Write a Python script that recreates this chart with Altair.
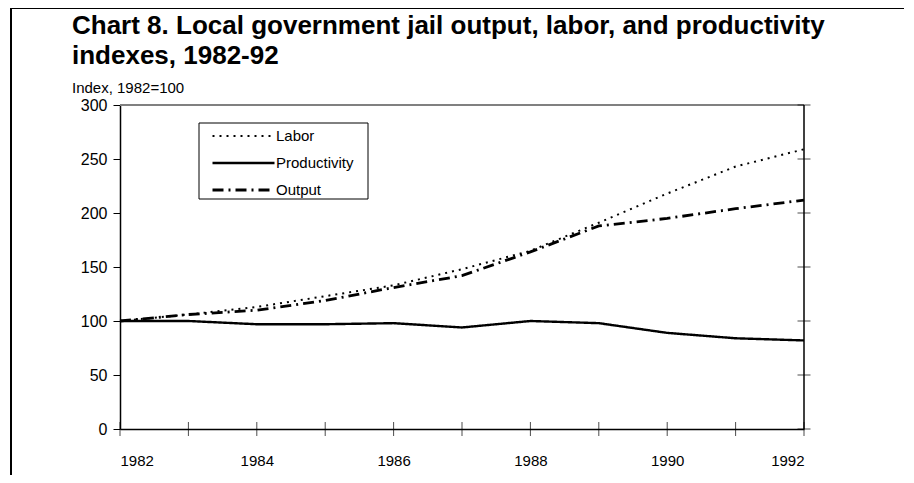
import altair as alt
import pandas as pd

years = list(range(1982, 1993))
labor = [100, 106, 113, 123, 133, 148, 165, 191, 218, 243, 259]
productivity = [100, 100, 97, 97, 98, 94, 100, 98, 89, 84, 82]
output = [100, 106, 110, 119, 131, 142, 164, 188, 195, 204, 212]
series_names = ["Labor", "Productivity", "Output"]
y_ticks = [0, 50, 100, 150, 200, 250, 300]
x_labels = [1982, 1984, 1986, 1988, 1990, 1992]

rows = []
for name, vals in zip(series_names, [labor, productivity, output]):
    for yr, v in zip(years, vals):
        rows.append({"year": yr, "value": v, "series": name})
df = pd.DataFrame(rows)

FONT = "Liberation Sans"
xscale = alt.Scale(domain=[1982, 1992], nice=False, zero=False)
yscale = alt.Scale(domain=[0, 300], nice=False)

lines = alt.Chart(df).mark_line(color="black").encode(
    x=alt.X("year:Q", scale=xscale,
            axis=alt.Axis(values=x_labels, format="d", title=None, ticks=False,
                          labelFontSize=15, labelFont=FONT, labelColor="black",
                          labelPadding=24, domainColor="black", domainWidth=1.5, grid=False)),
    y=alt.Y("value:Q", scale=yscale,
            axis=alt.Axis(values=y_ticks, title=None, tickSize=7, tickColor="black",
                          domainColor="black", domainWidth=1.5, labelFontSize=16, labelFont=FONT,
                          labelColor="black", labelPadding=6, grid=False)),
    strokeDash=alt.StrokeDash(
        "series:N", sort=series_names,
        scale=alt.Scale(domain=series_names, range=[[2, 5], [1, 0], [11, 5, 2, 5]]),
        legend=alt.Legend(title=None, orient="none", legendX=91, legendY=18.5,
                          direction="vertical", symbolType="stroke", symbolSize=3844,
                          symbolStrokeColor="black", symbolStrokeWidth=2,
                          labelFont=FONT, labelFontSize=15, labelColor="black",
                          labelOffset=0, padding=0, rowPadding=2, clipHeight=25)),
    strokeWidth=alt.StrokeWidth("series:N",
                                scale=alt.Scale(domain=series_names, range=[2, 2.8, 2]),
                                legend=None),
)

xticks = alt.Chart(pd.DataFrame({"year": years})).mark_tick(
    orient="vertical", size=14, thickness=1, color="black").encode(
    x=alt.X("year:Q", scale=xscale), y=alt.datum(0))

yticks = alt.Chart(pd.DataFrame({"v": y_ticks})).mark_tick(
    orient="horizontal", size=13, thickness=1, color="black").encode(
    x=alt.datum(1992), y=alt.Y("v:Q", scale=yscale))

dummy = pd.DataFrame({"a": [0]})
right_line = alt.Chart(dummy).mark_rule(color="black", strokeWidth=1.5).encode(x=alt.datum(1992))
top_line = alt.Chart(dummy).mark_rule(color="#808080", strokeWidth=2).encode(y=alt.datum(300))
frame_left = alt.Chart(dummy).mark_rule(color="black", strokeWidth=2).encode(
    x=alt.value(-109), y=alt.value(-97), y2=alt.value(380))
frame_top = alt.Chart(dummy).mark_rule(color="black", strokeWidth=2).encode(
    x=alt.value(-109), x2=alt.value(790), y=alt.value(-97))
legend_box = alt.Chart(dummy).mark_rect(fill="white", stroke="black", strokeWidth=1).encode(
    x=alt.value(79), x2=alt.value(248), y=alt.value(18), y2=alt.value(94))

chart = alt.layer(frame_left, frame_top, top_line, right_line, lines, xticks, yticks,
                  legend_box).properties(
    width=684, height=324,
    autosize=alt.AutoSizeParams(type="none"),
    padding={"left": 112, "top": 97, "right": 100, "bottom": 46},
    title=alt.Title(
        text=["Chart 8. Local government jail output, labor, and productivity",
              "indexes, 1982-92"],
        subtitle="Index, 1982=100",
        anchor="start", font=FONT, fontSize=26, fontWeight="bold", color="black",
        lineHeight=30, subtitleFont=FONT, subtitleFontSize=15, subtitleColor="black",
        subtitlePadding=12, dx=62, dy=93, offset=4),
).configure_view(stroke=None)

chart.save("out.html", embed_options={"renderer": "svg", "actions": False})
